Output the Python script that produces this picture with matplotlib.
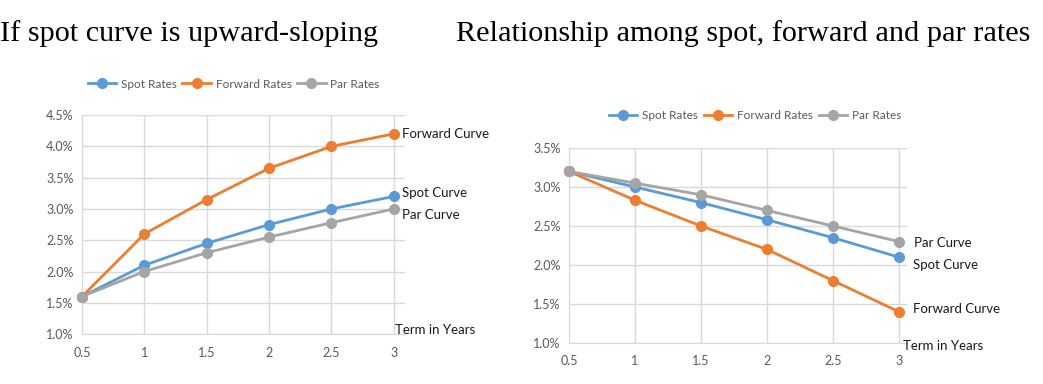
import matplotlib.pyplot as plt
from matplotlib.ticker import FuncFormatter

terms = [0.5, 1, 1.5, 2, 2.5, 3]

# left chart: upward-sloping spot curve
up_spot = [1.6, 2.1, 2.45, 2.75, 3.0, 3.2]
up_fwd = [1.6, 2.6, 3.15, 3.65, 4.0, 4.2]
up_par = [1.6, 2.0, 2.3, 2.55, 2.78, 3.0]

# right chart: downward-sloping spot curve
dn_spot = [3.2, 3.0, 2.8, 2.58, 2.35, 2.1]
dn_fwd = [3.2, 2.83, 2.5, 2.2, 1.8, 1.4]
dn_par = [3.2, 3.05, 2.9, 2.7, 2.5, 2.3]

series_names = ["Spot Rates", "Forward Rates", "Par Rates"]
blue, orange, grey = "#5B9BD5", "#ED7D31", "#A5A5A5"

fig = plt.figure(figsize=(10.43, 3.84), dpi=100)

fig.text(0.0, 0.912, "If spot curve is upward-sloping", family="Liberation Serif",
         fontsize=21.8, va="center", ha="left")
fig.text(0.437, 0.912, "Relationship among spot, forward and par rates",
         family="Liberation Serif", fontsize=21.8, va="center", ha="left")


def draw(ax, spot, fwd, par, ylim, xmax, labels, term_off):
    lines = []
    for vals, c in zip([spot, fwd, par], [blue, orange, grey]):
        l, = ax.plot(terms, vals, color=c, lw=2, marker="o", ms=7, clip_on=False, zorder=3)
        lines.append(l)
    ax.set_xlim(0.5, xmax)
    ax.set_ylim(*ylim)
    ax.set_xticks(terms)
    ax.set_xticklabels(["0.5", "1", "1.5", "2", "2.5", "3"])
    ax.set_yticks([v / 2 for v in range(int(ylim[0] * 2), int(ylim[1] * 2) + 1)])
    ax.yaxis.set_major_formatter(FuncFormatter(lambda v, p: "%.1f%%" % v))
    ax.grid(True, color="#D9D9D9", lw=1)
    ax.set_axisbelow(True)
    for s in ["top", "right"]:
        ax.spines[s].set_visible(False)
    for s in ["left", "bottom"]:
        ax.spines[s].set_color("#D9D9D9")
    ax.tick_params(length=0, labelsize=9, labelcolor="#595959")
    ax.tick_params(axis="x", pad=9)
    ax.tick_params(axis="y", pad=6)
    for lab in ax.get_xticklabels() + ax.get_yticklabels():
        lab.set_family("Lato")
    for text, y, dx, dy in labels:
        ax.annotate(text, xy=(3, y), xytext=(dx, dy), textcoords="offset pixels",
                    va="center", ha="left", fontsize=9.5, family="Lato", color="#1a1a1a")
    ax.annotate("Term in Years", xy=(3, ylim[0]), xytext=term_off, textcoords="offset pixels",
                va="center", ha="left", fontsize=9.5, family="Lato", color="#1a1a1a")
    return lines


ax1 = fig.add_axes([0.0786, 0.130, 0.3097, 0.5703])
h = draw(ax1, up_spot, up_fwd, up_par, (1.0, 4.5), 3.09,
         [("Forward Curve", 4.2, 8, 0), ("Spot Curve", 3.2, 8, 3), ("Par Curve", 3.0, 8, -6)],
         (1, 4))
fig.legend(h, series_names, loc="center", bbox_to_anchor=(0.224, 0.781), ncol=3, frameon=False,
           prop={"family": "Lato", "size": 8.5}, labelcolor="#595959", handlelength=2.4,
           columnspacing=0.5, handletextpad=0.4)

ax2 = fig.add_axes([0.5455, 0.1068, 0.324, 0.5078])
h = draw(ax2, dn_spot, dn_fwd, dn_par, (1.0, 3.5), 3.06,
         [("Par Curve", 2.3, 15, -1), ("Spot Curve", 2.1, 14, -8), ("Forward Curve", 1.4, 14, 3)],
         (4, -3))
fig.legend(h, series_names, loc="center", bbox_to_anchor=(0.724, 0.698), ncol=3, frameon=False,
           prop={"family": "Lato", "size": 8.5}, labelcolor="#595959", handlelength=2.4,
           columnspacing=0.5, handletextpad=0.4)

fig.savefig("out.png", dpi=100)
